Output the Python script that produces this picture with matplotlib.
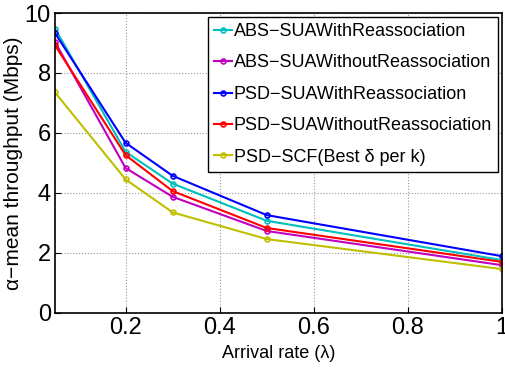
import matplotlib
matplotlib.use('Agg')
import matplotlib.pyplot as plt

plt.rcParams['font.family'] = ['Liberation Sans', 'DejaVu Sans']

arrival = [0.05, 0.2, 0.3, 0.5, 1.0]
abs_with = [9.48, 5.37, 4.31, 3.07, 1.76]
abs_without = [9.03, 4.83, 3.87, 2.73, 1.59]
psd_with = [9.33, 5.67, 4.57, 3.26, 1.89]
psd_without = [8.92, 5.26, 4.06, 2.83, 1.70]
psd_scf = [7.35, 4.45, 3.35, 2.46, 1.46]

labels = ['ABS\u2212SUAWithReassociation', 'ABS\u2212SUAWithoutReassociation',
          'PSD\u2212SUAWithReassociation', 'PSD\u2212SUAWithoutReassociation',
          'PSD\u2212SCF(Best \u03b4 per k)']
colors = [(0, 0.75, 0.75), (0.75, 0, 0.75), (0, 0, 1), (1, 0, 0), (0.75, 0.75, 0)]
series = [abs_with, abs_without, psd_with, psd_without, psd_scf]

fig = plt.figure(figsize=(5.05, 3.72), dpi=100)
ax = fig.add_axes([0.109, 0.159, 0.885, 0.806])

for vals, col, lab in zip(series, colors, labels):
    ax.plot(arrival, vals, '-o', color=col, lw=1.5, ms=3.5, mfc='none', mew=1.2, label=lab)

ax.set_xlim(0.05, 1)
ax.set_ylim(0, 10)
ax.set_xticks([0.2, 0.4, 0.6, 0.8, 1])
ax.set_xticklabels(['0.2', '0.4', '0.6', '0.8', '1'])
ax.set_yticks([0, 2, 4, 6, 8, 10])
ax.tick_params(labelsize=17, direction='in', length=4, pad=3)
ax.grid(True, linestyle=':', color='0.6', lw=0.8)
for s in ax.spines.values():
    s.set_linewidth(1.2)

ax.set_xlabel('Arrival rate (\u03bb)', fontsize=13, labelpad=4)
ax.set_ylabel('\u03b1\u2212mean throughput (Mbps)', fontsize=15, labelpad=1)

leg = ax.legend(loc='upper right', fontsize=13, handlelength=1.0, handletextpad=0.1,
                borderpad=0.35, labelspacing=0.8, fancybox=False, framealpha=1,
                edgecolor='black', borderaxespad=0.2)
leg.get_frame().set_linewidth(1.0)

fig.savefig('out.png', dpi=100)
